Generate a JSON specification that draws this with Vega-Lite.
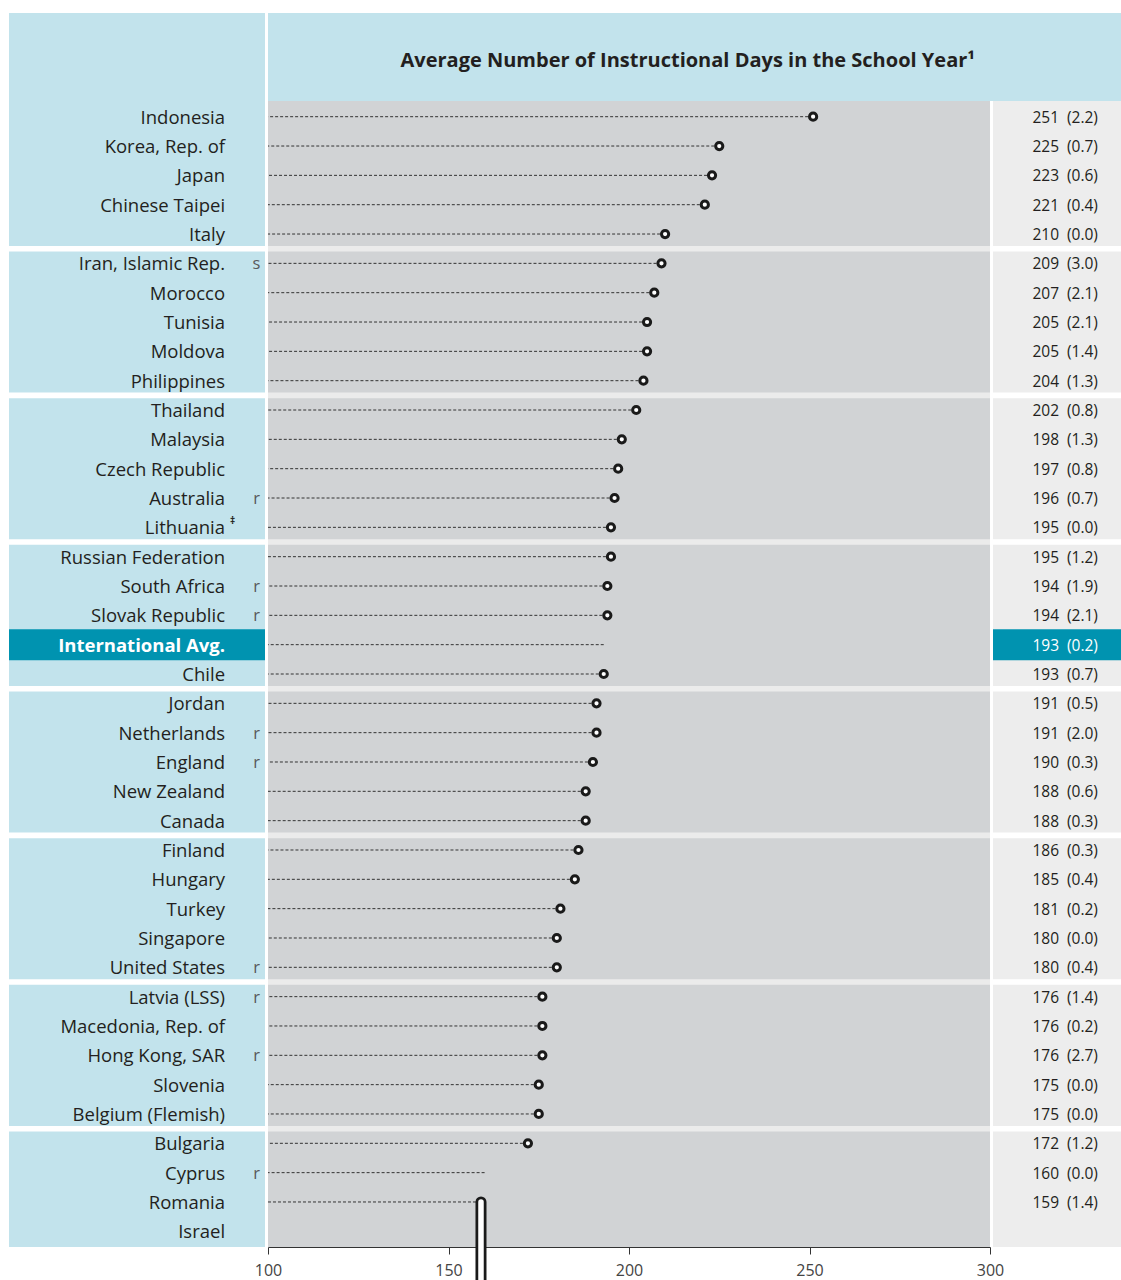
{
  "$schema": "https://vega.github.io/schema/vega-lite/v6.json",
  "padding": {"left": 9, "top": 13, "right": 0, "bottom": 0},
  "config": {"view": {"stroke": null}, "font": "Open Sans"},
  "datasets": {
    "rows": [
      {"name": "Indonesia", "days": 251, "se": 2.2, "dot": true, "note": "", "sup": ""},
      {"name": "Korea, Rep. of", "days": 225, "se": 0.7, "dot": true, "note": "", "sup": ""},
      {"name": "Japan", "days": 223, "se": 0.6, "dot": true, "note": "", "sup": ""},
      {"name": "Chinese Taipei", "days": 221, "se": 0.4, "dot": true, "note": "", "sup": ""},
      {"name": "Italy", "days": 210, "se": 0.0, "dot": true, "note": "", "sup": "", "grpEnd": true},
      {"name": "Iran, Islamic Rep.", "days": 209, "se": 3.0, "dot": true, "note": "s", "sup": ""},
      {"name": "Morocco", "days": 207, "se": 2.1, "dot": true, "note": "", "sup": ""},
      {"name": "Tunisia", "days": 205, "se": 2.1, "dot": true, "note": "", "sup": ""},
      {"name": "Moldova", "days": 205, "se": 1.4, "dot": true, "note": "", "sup": ""},
      {"name": "Philippines", "days": 204, "se": 1.3, "dot": true, "note": "", "sup": "", "grpEnd": true},
      {"name": "Thailand", "days": 202, "se": 0.8, "dot": true, "note": "", "sup": ""},
      {"name": "Malaysia", "days": 198, "se": 1.3, "dot": true, "note": "", "sup": ""},
      {"name": "Czech Republic", "days": 197, "se": 0.8, "dot": true, "note": "", "sup": ""},
      {"name": "Australia", "days": 196, "se": 0.7, "dot": true, "note": "r", "sup": ""},
      {"name": "Lithuania", "days": 195, "se": 0.0, "dot": true, "note": "", "sup": "‡", "grpEnd": true},
      {"name": "Russian Federation", "days": 195, "se": 1.2, "dot": true, "note": "", "sup": ""},
      {"name": "South Africa", "days": 194, "se": 1.9, "dot": true, "note": "r", "sup": ""},
      {"name": "Slovak Republic", "days": 194, "se": 2.1, "dot": true, "note": "r", "sup": ""},
      {"name": "International Avg.", "days": 193, "se": 0.2, "dot": false, "note": "", "sup": "", "intl": true},
      {"name": "Chile", "days": 193, "se": 0.7, "dot": true, "note": "", "sup": "", "grpEnd": true},
      {"name": "Jordan", "days": 191, "se": 0.5, "dot": true, "note": "", "sup": ""},
      {"name": "Netherlands", "days": 191, "se": 2.0, "dot": true, "note": "r", "sup": ""},
      {"name": "England", "days": 190, "se": 0.3, "dot": true, "note": "r", "sup": ""},
      {"name": "New Zealand", "days": 188, "se": 0.6, "dot": true, "note": "", "sup": ""},
      {"name": "Canada", "days": 188, "se": 0.3, "dot": true, "note": "", "sup": "", "grpEnd": true},
      {"name": "Finland", "days": 186, "se": 0.3, "dot": true, "note": "", "sup": ""},
      {"name": "Hungary", "days": 185, "se": 0.4, "dot": true, "note": "", "sup": ""},
      {"name": "Turkey", "days": 181, "se": 0.2, "dot": true, "note": "", "sup": ""},
      {"name": "Singapore", "days": 180, "se": 0.0, "dot": true, "note": "", "sup": ""},
      {"name": "United States", "days": 180, "se": 0.4, "dot": true, "note": "r", "sup": "", "grpEnd": true},
      {"name": "Latvia (LSS)", "days": 176, "se": 1.4, "dot": true, "note": "r", "sup": ""},
      {"name": "Macedonia, Rep. of", "days": 176, "se": 0.2, "dot": true, "note": "", "sup": ""},
      {"name": "Hong Kong, SAR", "days": 176, "se": 2.7, "dot": true, "note": "r", "sup": ""},
      {"name": "Slovenia", "days": 175, "se": 0.0, "dot": true, "note": "", "sup": ""},
      {"name": "Belgium (Flemish)", "days": 175, "se": 0.0, "dot": true, "note": "", "sup": "", "grpEnd": true},
      {"name": "Bulgaria", "days": 172, "se": 1.2, "dot": true, "note": "", "sup": ""},
      {"name": "Cyprus", "days": 160, "se": 0.0, "dot": false, "note": "r", "sup": ""},
      {"name": "Romania", "days": 159, "se": 1.4, "dot": false, "note": "", "sup": "", "odd": true},
      {"name": "Israel", "days": null, "se": null, "dot": false, "note": "", "sup": ""}
    ]
  },
  "spacing": 0,
  "vconcat": [
    {
      "spacing": 3,
      "bounds": "flush",
      "hconcat": [
        {
          "width": 256, "height": 88,
          "view": {"fill": "#c2e3ec", "stroke": null},
          "data": {"values": [{}]},
          "mark": {"type": "text", "text": ""},
          "encoding": {}
        },
        {
          "width": 853, "height": 88,
          "view": {"fill": "#c2e3ec", "stroke": null},
          "data": {"values": [{}]},
          "mark": {"type": "text", "text": "Average Number of Instructional Days in the School Year¹", "font": "Open Sans", "fontSize": 20, "fontWeight": "bold", "color": "#231f20", "align": "center", "baseline": "middle"},
          "encoding": {
            "x": {"datum": "title", "type": "nominal", "axis": null, "scale": {"type": "point", "domain": ["title"], "align": 0.492}},
            "y": {"datum": "title", "type": "nominal", "axis": null, "scale": {"type": "point", "domain": ["title"], "align": 0.54}}
          }
        }
      ]
    },
    {
      "spacing": 3,
      "bounds": "flush",
      "hconcat": [
        {
          "width": 256, "height": 1146,
          "view": {"fill": "#c2e3ec", "stroke": null},
          "data": {"name": "rows"},
          "resolve": {"scale": {"x": "independent"}},
          "layer": [
            {
              "transform": [{"filter": "datum.grpEnd"}],
              "mark": {"type": "rect", "color": "#ffffff", "yOffset": 11.9, "y2Offset": 17.5},
              "encoding": {
                "y": {"field": "name", "type": "nominal", "axis": null, "scale": {"type": "point", "padding": 0.535, "domain": ["Indonesia","Korea, Rep. of","Japan","Chinese Taipei","Italy","Iran, Islamic Rep.","Morocco","Tunisia","Moldova","Philippines","Thailand","Malaysia","Czech Republic","Australia","Lithuania","Russian Federation","South Africa","Slovak Republic","International Avg.","Chile","Jordan","Netherlands","England","New Zealand","Canada","Finland","Hungary","Turkey","Singapore","United States","Latvia (LSS)","Macedonia, Rep. of","Hong Kong, SAR","Slovenia","Belgium (Flemish)","Bulgaria","Cyprus","Romania","Israel"]}},
                "y2": {"field": "name"}
              }
            },
            {
              "transform": [{"filter": "datum.intl"}],
              "mark": {"type": "rect", "color": "#0093b0", "yOffset": -15.5, "y2Offset": 15.5},
              "encoding": {
                "y": {"field": "name", "type": "nominal", "axis": null},
                "y2": {"field": "name"}
              }
            },
            {
              "transform": [{"filter": "!datum.intl"}],
              "mark": {"type": "text", "align": "right", "baseline": "middle", "font": "Open Sans", "fontSize": 18.5, "color": "#231f20", "dy": 1},
              "encoding": {
                "x": {"datum": "name", "type": "nominal", "axis": null, "scale": {"type": "point", "domain": ["name"], "align": 0.844}},
                "y": {"field": "name", "type": "nominal", "axis": null},
                "text": {"field": "name", "type": "nominal"}
              }
            },
            {
              "transform": [{"filter": "datum.intl"}],
              "mark": {"type": "text", "align": "right", "baseline": "middle", "font": "Open Sans", "fontSize": 18.5, "fontWeight": "bold", "color": "#ffffff", "dy": 1},
              "encoding": {
                "x": {"datum": "name", "type": "nominal", "axis": null, "scale": {"type": "point", "domain": ["name"], "align": 0.844}},
                "y": {"field": "name", "type": "nominal", "axis": null},
                "text": {"field": "name", "type": "nominal"}
              }
            },
            {
              "mark": {"type": "text", "align": "center", "baseline": "middle", "font": "Open Sans", "fontSize": 16.5, "color": "#58595b", "dy": 1},
              "encoding": {
                "x": {"datum": "note", "type": "nominal", "axis": null, "scale": {"type": "point", "domain": ["note"], "align": 0.967}},
                "y": {"field": "name", "type": "nominal", "axis": null},
                "text": {"field": "note", "type": "nominal"}
              }
            },
            {
              "mark": {"type": "text", "align": "left", "baseline": "middle", "font": "Open Sans", "fontSize": 10, "fontWeight": "bold", "color": "#231f20", "dx": 5, "dy": -6},
              "encoding": {
                "x": {"datum": "name", "type": "nominal", "axis": null, "scale": {"type": "point", "domain": ["name"], "align": 0.844}},
                "y": {"field": "name", "type": "nominal", "axis": null},
                "text": {"field": "sup", "type": "nominal"}
              }
            }
          ]
        },
        {
          "width": 722, "height": 1146,
          "view": {"fill": "#d1d3d5", "stroke": null},
          "data": {"name": "rows"},
          "layer": [
            {
              "transform": [{"filter": "datum.grpEnd"}],
              "mark": {"type": "rect", "color": "#ebebeb", "yOffset": 11.9, "y2Offset": 17.5},
              "encoding": {
                "y": {"field": "name", "type": "nominal", "axis": null, "scale": {"type": "point", "padding": 0.535, "domain": ["Indonesia","Korea, Rep. of","Japan","Chinese Taipei","Italy","Iran, Islamic Rep.","Morocco","Tunisia","Moldova","Philippines","Thailand","Malaysia","Czech Republic","Australia","Lithuania","Russian Federation","South Africa","Slovak Republic","International Avg.","Chile","Jordan","Netherlands","England","New Zealand","Canada","Finland","Hungary","Turkey","Singapore","United States","Latvia (LSS)","Macedonia, Rep. of","Hong Kong, SAR","Slovenia","Belgium (Flemish)","Bulgaria","Cyprus","Romania","Israel"]}},
                "y2": {"field": "name"}
              }
            },
            {
              "mark": {"type": "rule", "color": "#333333", "strokeWidth": 1, "strokeDash": [3, 2]},
              "encoding": {
                "x": {"field": "days", "type": "quantitative", "title": null, "scale": {"domain": [100, 300], "nice": false, "zero": false},
                      "axis": {"values": [100, 150, 200, 250, 300], "title": null, "grid": false, "labelFlush": false, "domainColor": "#333333", "domainWidth": 1, "tickColor": "#333333", "tickSize": 7, "labelFont": "Open Sans", "labelFontSize": 16, "labelColor": "#444444", "labelPadding": 8}},
                "x2": {"datum": 100},
                "y": {"field": "name", "type": "nominal", "axis": null}
              }
            },
            {
              "transform": [{"filter": "datum.dot"}],
              "mark": {"type": "point", "shape": "circle", "filled": true, "fill": "#ffffff", "stroke": "#1a1a1a", "strokeWidth": 3, "size": 52, "opacity": 1},
              "encoding": {
                "x": {"field": "days", "type": "quantitative", "title": null},
                "y": {"field": "name", "type": "nominal", "axis": null}
              }
            },
            {
              "transform": [{"filter": "datum.odd"}],
              "mark": {"type": "rule", "color": "#1a1a1a", "strokeWidth": 11, "strokeCap": "round", "y2Offset": 60},
              "encoding": {
                "x": {"field": "days", "type": "quantitative", "title": null},
                "y": {"field": "name", "type": "nominal", "axis": null},
                "y2": {"datum": "Israel"}
              }
            },
            {
              "transform": [{"filter": "datum.odd"}],
              "mark": {"type": "rule", "color": "#ffffff", "strokeWidth": 5.5, "strokeCap": "round", "y2Offset": 60},
              "encoding": {
                "x": {"field": "days", "type": "quantitative", "title": null},
                "y": {"field": "name", "type": "nominal", "axis": null},
                "y2": {"datum": "Israel"}
              }
            }
          ]
        },
        {
          "width": 128, "height": 1146,
          "view": {"fill": "#ededed", "stroke": null},
          "data": {"name": "rows"},
          "resolve": {"scale": {"x": "independent"}},
          "layer": [
            {
              "transform": [{"filter": "datum.grpEnd"}],
              "mark": {"type": "rect", "color": "#ffffff", "yOffset": 11.9, "y2Offset": 17.5},
              "encoding": {
                "y": {"field": "name", "type": "nominal", "axis": null, "scale": {"type": "point", "padding": 0.535, "domain": ["Indonesia","Korea, Rep. of","Japan","Chinese Taipei","Italy","Iran, Islamic Rep.","Morocco","Tunisia","Moldova","Philippines","Thailand","Malaysia","Czech Republic","Australia","Lithuania","Russian Federation","South Africa","Slovak Republic","International Avg.","Chile","Jordan","Netherlands","England","New Zealand","Canada","Finland","Hungary","Turkey","Singapore","United States","Latvia (LSS)","Macedonia, Rep. of","Hong Kong, SAR","Slovenia","Belgium (Flemish)","Bulgaria","Cyprus","Romania","Israel"]}},
                "y2": {"field": "name"}
              }
            },
            {
              "transform": [{"filter": "datum.intl"}],
              "mark": {"type": "rect", "color": "#0093b0", "yOffset": -15.5, "y2Offset": 15.5},
              "encoding": {
                "y": {"field": "name", "type": "nominal", "axis": null},
                "y2": {"field": "name"}
              }
            },
            {
              "transform": [{"filter": "isValid(datum.days)"}],
              "mark": {"type": "text", "align": "right", "baseline": "middle", "font": "Open Sans", "fontSize": 15.5, "dy": 1},
              "encoding": {
                "x": {"datum": "days", "type": "nominal", "axis": null, "scale": {"type": "point", "domain": ["days"], "align": 0.516}},
                "y": {"field": "name", "type": "nominal", "axis": null},
                "text": {"field": "days", "type": "quantitative"},
                "color": {"condition": {"test": "datum.intl", "value": "#ffffff"}, "value": "#231f20"}
              }
            },
            {
              "transform": [{"filter": "isValid(datum.se)"}],
              "mark": {"type": "text", "align": "left", "baseline": "middle", "font": "Open Sans", "fontSize": 15.5, "dy": 1, "text": {"expr": "'(' + format(datum.se, '.1f') + ')'"}},
              "encoding": {
                "x": {"datum": "se", "type": "nominal", "axis": null, "scale": {"type": "point", "domain": ["se"], "align": 0.578}},
                "y": {"field": "name", "type": "nominal", "axis": null},
                "color": {"condition": {"test": "datum.intl", "value": "#ffffff"}, "value": "#231f20"}
              }
            }
          ]
        }
      ]
    }
  ]
}
